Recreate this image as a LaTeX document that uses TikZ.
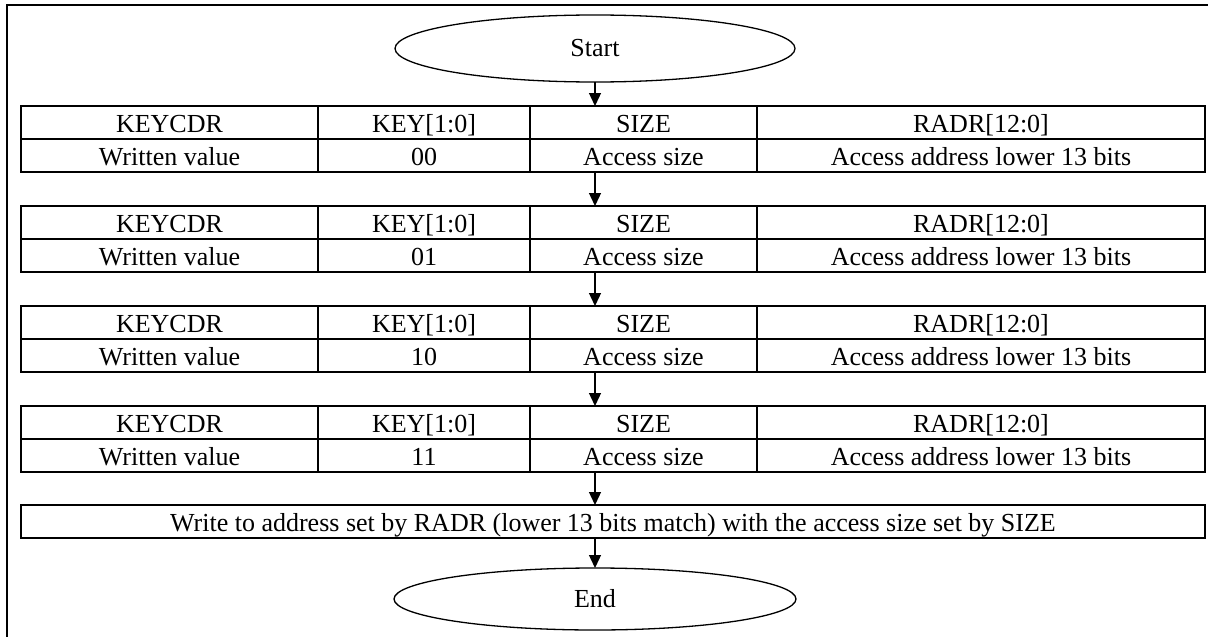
\documentclass[tikz,border=0pt]{standalone}
\usepackage{fontspec}
\setmainfont{Liberation Serif}
\usetikzlibrary{shapes.geometric,arrows.meta}
\newcommand\flowtable[3]{%
  \node[cell, minimum width=297pt] (k#1) at (21,#2) {KEYCDR};
  \node[cell, minimum width=212pt] (i#1) at (318,#2) {KEY[1:0]};
  \node[cell, minimum width=227pt] (s#1) at (530,#2) {SIZE};
  \node[cell, minimum width=448pt] (r#1) at (757,#2) {RADR[12:0]};
  \node[cell, minimum width=297pt] (kv#1) at (21,#2+33) {Written value};
  \node[cell, minimum width=212pt] (iv#1) at (318,#2+33) {#3};
  \node[cell, minimum width=227pt] (sv#1) at (530,#2+33) {Access size};
  \node[cell, minimum width=448pt] (rv#1) at (757,#2+33) {Access address lower 13 bits};
}
\begin{document}
\begin{tikzpicture}[x=1pt,y=-1pt,
  cell/.style={draw, line width=1.7pt, rectangle, inner sep=0pt, outer sep=0pt,
    minimum height=33pt, text height=20pt, text depth=0pt, anchor=north west,
    font=\fontsize{26}{30}\selectfont},
  term/.style={draw, ellipse, line width=1.3pt, inner sep=0pt, outer sep=0pt,
    font=\fontsize{26}{30}\selectfont},
  arr/.style={line width=1.3pt, -{Triangle[width=12pt,length=13pt]}}
]
\useasboundingbox (0,0) rectangle (1208,637);
\draw[line width=2pt] (7,637) -- (7,5) -- (1208,5);

\node[term, minimum width=400pt, minimum height=67pt] (start) at (595,48.5) {Start};

\flowtable{1}{106}{00}
\flowtable{2}{206}{01}
\flowtable{3}{306}{10}
\flowtable{4}{406}{11}

\node[cell, minimum width=1184pt] (w) at (21,505)
  {Write to address set by RADR (lower 13 bits match) with the access size set by SIZE};

\node[term, minimum width=402pt, minimum height=62pt] (end) at (595,599) {End};

\draw[arr] (start.south) -- (start.south |- s1.north);
\draw[arr] (sv1.south -| start.south) -- (s2.north -| start.south);
\draw[arr] (sv2.south -| start.south) -- (s3.north -| start.south);
\draw[arr] (sv3.south -| start.south) -- (s4.north -| start.south);
\draw[arr] (sv4.south -| start.south) -- (w.north -| start.south);
\draw[arr] (w.south -| end.north) -- (end.north);
\end{tikzpicture}
\end{document}
